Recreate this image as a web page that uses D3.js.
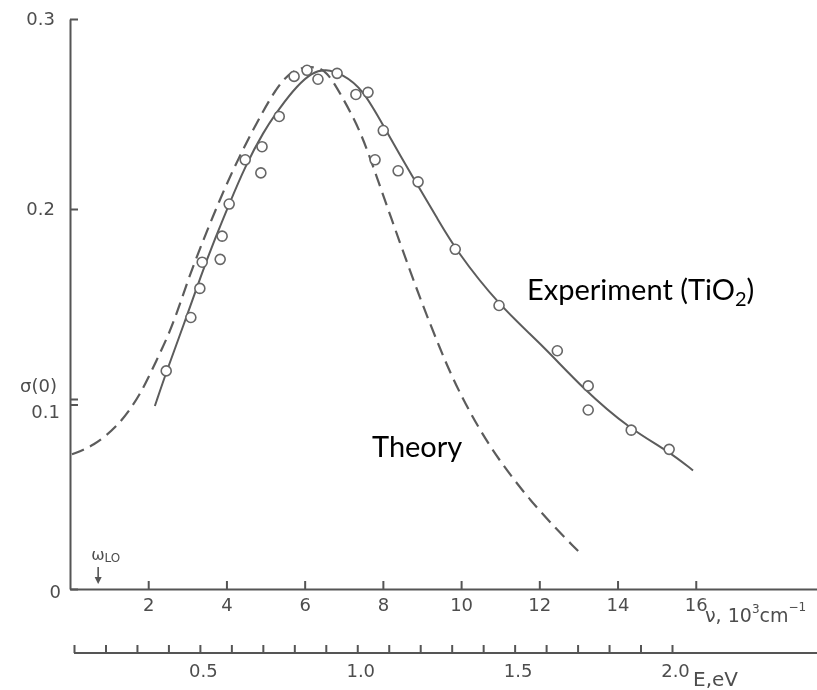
<!DOCTYPE html>
<html>
<head>
<meta charset="utf-8">
<script src="https://cdn.jsdelivr.net/npm/d3@7"></script>
<style>
  html, body { margin: 0; padding: 0; background: #fff; }
  svg { display: block; }
  .axis path, .axis line { stroke: #555; stroke-width: 2; }
  .axis text { font-family: "DejaVu Sans", sans-serif; font-size: 18px; fill: #4d4d4d; }
  .lbl { font-family: "DejaVu Sans", sans-serif; fill: #4d4d4d; }
  .note { font-family: Lato, "Open Sans", sans-serif; fill: #000; }
</style>
</head>
<body>
<svg id="chart" width="817" height="690">
  <defs>
    <filter id="soft" x="-5%" y="-5%" width="110%" height="110%">
      <feGaussianBlur stdDeviation="0.45"/>
    </filter>
  </defs>
</svg>
<script>
// Frequency-dependent conductivity sigma(0) versus photon wavenumber (10^3 cm^-1)

// Measured points (open circles)
const nuExp    = [2.46, 3.09, 3.32, 3.38, 3.84, 3.89, 4.07, 4.48, 4.88, 4.91, 5.35, 5.73, 6.06, 6.34, 6.83, 7.31, 7.62, 8.01, 7.80, 8.39, 8.90, 9.85, 10.97, 12.46, 13.25, 13.25, 14.35, 15.32];
const sigmaExp = [0.1148, 0.1429, 0.1582, 0.1720, 0.1735, 0.1857, 0.2026, 0.2259, 0.2190, 0.2328, 0.2487, 0.2698, 0.2730, 0.2683, 0.2714, 0.2603, 0.2614, 0.2413, 0.2259, 0.2201, 0.2143, 0.1788, 0.1492, 0.1254, 0.1069, 0.0942, 0.0836, 0.0735];

// Smooth curve through the experiment
const nuFit    = [2.17, 2.48, 2.92, 3.35, 3.72, 4.07, 4.48, 4.94, 5.37, 5.81, 6.19, 6.52, 6.98, 7.49, 8.01, 8.77, 9.39, 9.85, 10.97, 12.10, 13.12, 14.32, 15.27, 15.93];
const sigmaFit = [0.0963, 0.1153, 0.1397, 0.1651, 0.1850, 0.2026, 0.2225, 0.2405, 0.2535, 0.2650, 0.2718, 0.2738, 0.2709, 0.2630, 0.2439, 0.2164, 0.1952, 0.1788, 0.1492, 0.1280, 0.1053, 0.0841, 0.0730, 0.0624];

// Theoretical curve (dashed)
const nuTheory    = [0.05, 0.59, 1.23, 1.79, 2.23, 2.56, 2.86, 3.15, 3.84, 4.35, 4.94, 5.45, 5.88, 6.27, 6.57, 6.91, 7.42, 7.85, 8.44, 8.95, 9.46, 9.90, 10.74, 11.94, 13.04];
const sigmaTheory = [0.0709, 0.0751, 0.0857, 0.1016, 0.1212, 0.1354, 0.1529, 0.1704, 0.2058, 0.2286, 0.2519, 0.2693, 0.2745, 0.2750, 0.2725, 0.2608, 0.2418, 0.2164, 0.1820, 0.1529, 0.1265, 0.1053, 0.0735, 0.0418, 0.0190];

// Axis ticks
const nuTicks     = [2, 4, 6, 8, 10, 12, 14, 16];
const sigmaTicks  = [0, 0.1, 0.2, 0.3];
const sigmaLabels = ["0", "0.1", "0.2", "0.3"];
const eTicks      = [0.1, 0.2, 0.3, 0.4, 0.5, 0.6, 0.7, 0.8, 0.9, 1.0, 1.1, 1.2, 1.3, 1.4, 1.5, 1.6, 1.7, 1.8, 1.9, 2.0];
const eLabels     = [0.5, 1.0, 1.5, 2.0];
const omegaLO     = 0.72;

const svg = d3.select("#chart");
const plot = svg.append("g").attr("filter", "url(#soft)");

const x = d3.scaleLinear().domain([0, 19.1]).range([70, 817]);
const y = d3.scaleLinear().domain([0, 0.3]).range([589, 19]);
const xE = d3.scaleLinear().domain([0.1, 2.0]).range([74, 672]);

// Wavenumber axis
const gx = plot.append("g").attr("class", "axis")
  .attr("transform", `translate(0,${y(0)})`)
  .call(d3.axisBottom(x).tickValues(nuTicks).tickSize(-8).tickSizeOuter(0).tickPadding(6).tickFormat(d3.format("d")));
gx.selectAll(".tick text").attr("dy", "0.9em");

// Conductivity axis
const gy = plot.append("g").attr("class", "axis")
  .attr("transform", `translate(${x(0)},0)`)
  .call(d3.axisLeft(y).tickValues(sigmaTicks).tickSize(-8).tickSizeOuter(0).tickPadding(15)
    .tickFormat((d, i) => sigmaLabels[i]));
gy.selectAll(".tick text").filter(d => d === 0.1).attr("dy", "1.05em").attr("x", -10);
gy.selectAll(".tick text").filter(d => d === 0).attr("x", -9).attr("dy", "0.45em");
// second short tick beside 0.1
gy.append("line").attr("x1", 0).attr("x2", 8)
  .attr("y1", y(0.1) + 6).attr("y2", y(0.1) + 6);

// Energy axis
const gE = plot.append("g").attr("class", "axis")
  .attr("transform", "translate(0,653)")
  .call(d3.axisBottom(xE).tickValues(eTicks).tickSize(-8).tickSizeOuter(0).tickPadding(6)
    .tickFormat(d => eLabels.includes(d) ? d3.format(".1f")(d) : ""));
gE.select(".domain").attr("d", `M${xE(0.1)},0H817`);
gE.selectAll(".tick text").attr("dy", "1.0em").attr("dx", "3");

// Axis titles
plot.append("text").attr("class", "lbl").attr("x", 20).attr("y", 392)
  .style("font-size", "18px").text("σ(0)");

const nuTitle = plot.append("text").attr("class", "lbl").attr("x", 705).attr("y", 622).style("font-size", "19px");
nuTitle.append("tspan").text("ν, 10");
nuTitle.append("tspan").attr("dy", -9).style("font-size", "12px").text("3");
nuTitle.append("tspan").attr("dy", 9).text("cm");
nuTitle.append("tspan").attr("dy", -11).style("font-size", "12px").text("−1");

plot.append("text").attr("class", "lbl").attr("x", 693).attr("y", 686)
  .style("font-size", "20px").text("E,eV");

// LO phonon marker
const lo = plot.append("text").attr("class", "lbl").attr("x", x(omegaLO) - 7).attr("y", 560).style("font-size", "16px");
lo.append("tspan").text("ω");
lo.append("tspan").attr("dy", 2).style("font-size", "12px").text("LO");
plot.append("line").attr("x1", x(omegaLO)).attr("x2", x(omegaLO)).attr("y1", 567).attr("y2", 580)
  .attr("stroke", "#555").attr("stroke-width", 1.6);
plot.append("path")
  .attr("d", `M${x(omegaLO) - 3.5},577L${x(omegaLO) + 3.5},577L${x(omegaLO)},584Z`)
  .attr("fill", "#555");

// Curves
const line = d3.line().x(d => x(d[0])).y(d => y(d[1])).curve(d3.curveBasis);

plot.append("path")
  .datum(d3.zip(nuTheory, sigmaTheory))
  .attr("d", line)
  .attr("fill", "none").attr("stroke", "#5c5c5c").attr("stroke-width", 2.2)
  .attr("stroke-dasharray", "13,7");

plot.append("path")
  .datum(d3.zip(nuFit, sigmaFit))
  .attr("d", line)
  .attr("fill", "none").attr("stroke", "#5c5c5c").attr("stroke-width", 2);

plot.append("g").selectAll("circle")
  .data(d3.zip(nuExp, sigmaExp))
  .join("circle")
  .attr("cx", d => x(d[0])).attr("cy", d => y(d[1])).attr("r", 5)
  .attr("fill", "#fff").attr("stroke", "#666").attr("stroke-width", 1.6);

// Annotations
const ex = svg.append("text").attr("class", "note").attr("x", 527).attr("y", 300).style("font-size", "29px");
ex.append("tspan").text("Experiment (TiO");
ex.append("tspan").attr("dy", 6).style("font-size", "20px").text("2");
ex.append("tspan").attr("dy", -6).text(")");

svg.append("text").attr("class", "note").attr("x", 372).attr("y", 457)
  .style("font-size", "29px").text("Theory");
</script>
</body>
</html>
